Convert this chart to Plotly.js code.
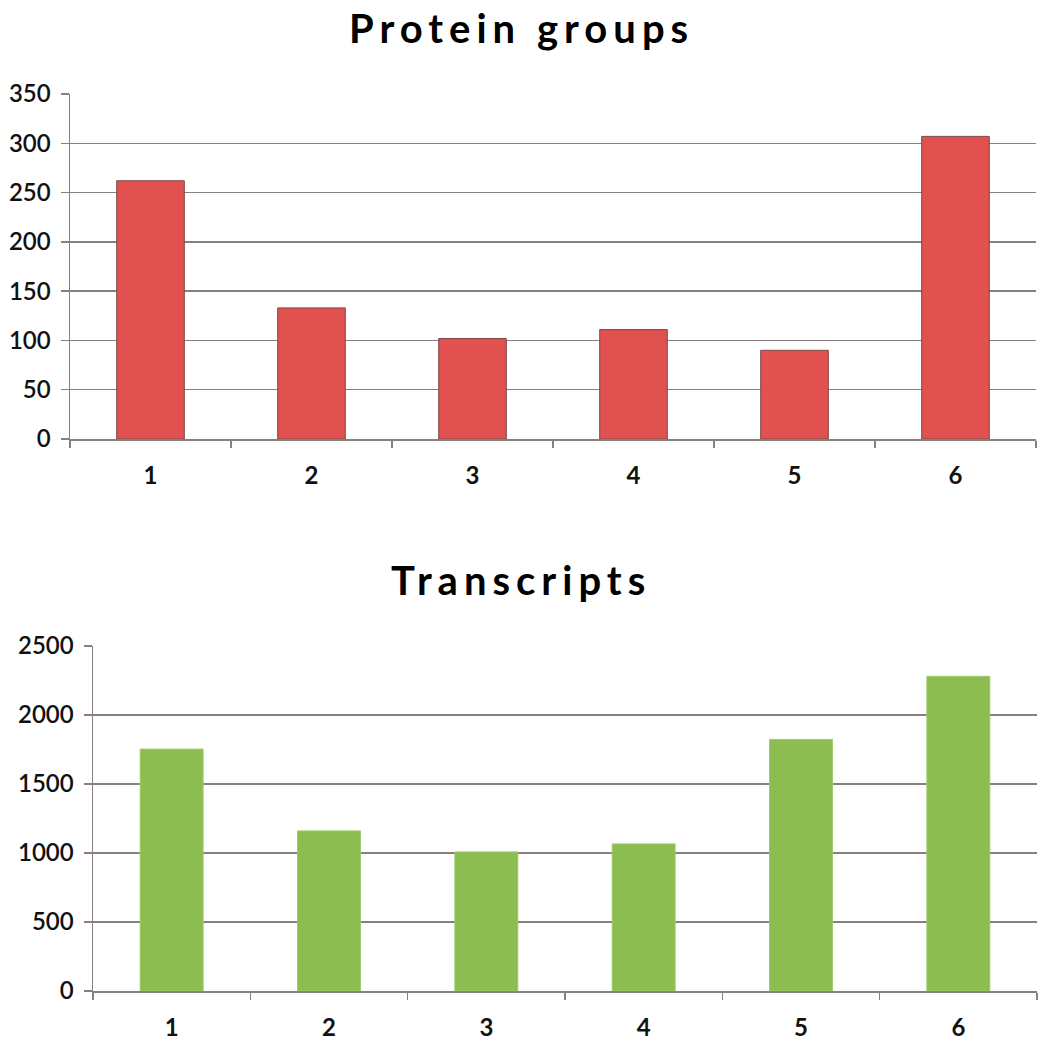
<!DOCTYPE html>
<html>
<head>
<meta charset="utf-8">
<script src="https://cdn.plot.ly/plotly-3.0.1.min.js"></script>
<style>
  html, body { margin: 0; padding: 0; background: #fff; }
  #plot { width: 1050px; height: 1047px; }
  /* the original titles are set with wide letter spacing */
  #plot .annotation-text { letter-spacing: 6px; }
</style>
</head>
<body>
<div id="plot"></div>
<script>
// --- Data ---
const categories = ["1", "2", "3", "4", "5", "6"];
const proteinGroups = [262, 133, 102, 111, 90, 307];
const transcripts = [1753, 1160, 1008, 1066, 1823, 2280];

const gridColor = "#8a7f7f";
const font = "Lato, 'Open Sans', sans-serif";

const traces = [
  {
    type: "bar",
    x: categories,
    y: proteinGroups,
    xaxis: "x",
    yaxis: "y",
    marker: { color: "#e0514f", line: { color: "#7a4a48", width: 1 } },
    width: 0.42,
    hoverinfo: "x+y"
  },
  {
    type: "bar",
    x: categories,
    y: transcripts,
    xaxis: "x2",
    yaxis: "y2",
    marker: { color: "#8cbd50", line: { color: "#9ccc66", width: 1 } },
    width: 0.4,
    hoverinfo: "x+y"
  }
];

const xCommon = {
  type: "category",
  showgrid: false,
  showline: true,
  linecolor: gridColor,
  linewidth: 1.5,
  ticks: "outside",
  tickson: "boundaries",
  ticklen: 7,
  tickcolor: gridColor,
  tickwidth: 1.5,
  ticklabelstandoff: 15,
  tickfont: { family: font, size: 24, color: "#111", weight: "bold" },
  fixedrange: true
};

const yCommon = {
  showgrid: true,
  gridcolor: gridColor,
  gridwidth: 1.5,
  showline: true,
  linecolor: gridColor,
  linewidth: 1.5,
  zeroline: false,
  ticks: "outside",
  ticklen: 8,
  tickcolor: gridColor,
  tickwidth: 1.5,
  ticklabelstandoff: 5,
  tickfont: { family: font, size: 24, color: "#111", weight: 600 },
  fixedrange: true
};

const layout = {
  width: 1050,
  height: 1047,
  margin: { l: 0, r: 0, t: 0, b: 0 },
  paper_bgcolor: "white",
  plot_bgcolor: "white",
  showlegend: false,
  xaxis: Object.assign({}, xCommon, { domain: [70 / 1050, 1036 / 1050], anchor: "y" }),
  yaxis: Object.assign({}, yCommon, {
    domain: [1 - 439 / 1047, 1 - 94 / 1047],
    range: [0, 350], dtick: 50, anchor: "x"
  }),
  xaxis2: Object.assign({}, xCommon, { domain: [93 / 1050, 1037 / 1050], anchor: "y2" }),
  yaxis2: Object.assign({}, yCommon, {
    domain: [1 - 991 / 1047, 1 - 646 / 1047],
    range: [0, 2500], dtick: 500, anchor: "x2"
  }),
  annotations: [
    {
      text: "Protein groups",
      xref: "paper", yref: "paper",
      x: 521 / 1050, y: 1 - 28 / 1047,
      xanchor: "center", yanchor: "middle",
      showarrow: false,
      font: { family: font, size: 40, color: "#000", weight: "bold" }
    },
    {
      text: "Transcripts",
      xref: "paper", yref: "paper",
      x: 521 / 1050, y: 1 - 580 / 1047,
      xanchor: "center", yanchor: "middle",
      showarrow: false,
      font: { family: font, size: 40, color: "#000", weight: "bold" }
    }
  ]
};

Plotly.newPlot("plot", traces, layout, { displayModeBar: false, staticPlot: true });
</script>
</body>
</html>
